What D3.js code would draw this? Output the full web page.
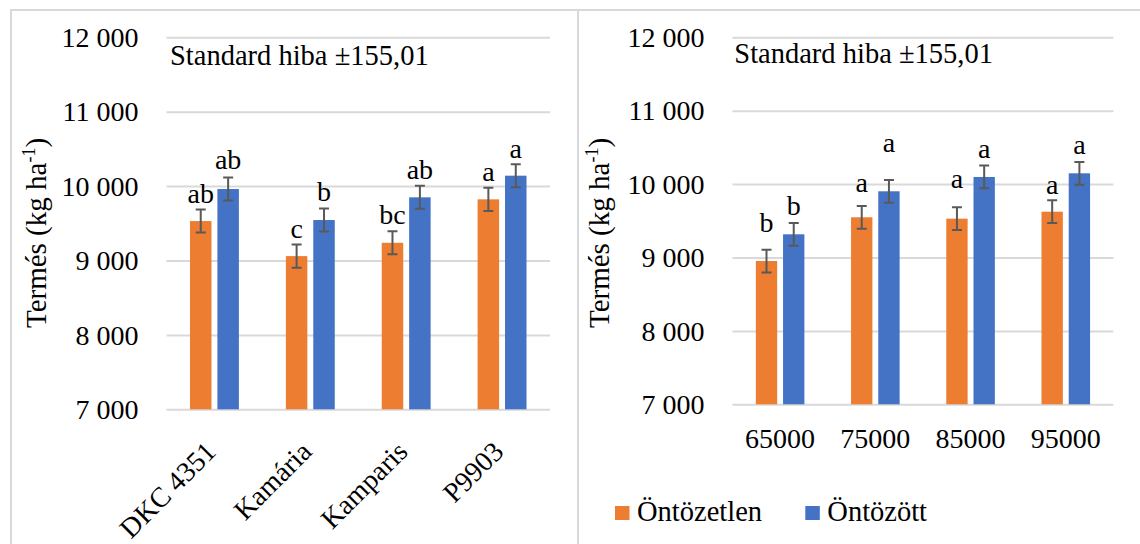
<!DOCTYPE html>
<html>
<head>
<meta charset="utf-8">
<script src="https://cdn.jsdelivr.net/npm/d3@7"></script>
<style>
body{margin:0;background:#fff;}
text{font-family:"Liberation Serif","Times New Roman",serif;fill:#000;}
</style>
</head>
<body>
<script>
// data
var hybrids=["DKC 4351","Kamária","Kamparis","P9903"];
var hybridDry=[9530,9059,9238,9822];
var hybridWet=[9961,9544,9849,10140];
var hybridDryLetters=["ab","c","bc","a"];
var hybridWetLetters=["ab","b","ab","a"];

var densities=["65000","75000","85000","95000"];
var densityDry=[8952,9548,9529,9624];
var densityWet=[9316,9902,10097,10147];
var densityDryLetters=["b","a","a","a"];
var densityWetLetters=["b","a","a","a"];

var seriesNames=["Öntözetlen","Öntözött"];
var yTicks=[7000,8000,9000,10000,11000,12000];
var stdErr=155.01;
var noteText="Standard hiba ±155,01";

var colors=["#ED7D31","#4472C4"];
var serif="Liberation Serif";
var fmt=d3.formatLocale({decimal:",",thousands:" ",grouping:[3],currency:["",""]}).format(",");

var svg=d3.select("body").append("svg").attr("width",1140).attr("height",544);

// frame lines
var frame="#D9D9D9";
svg.append("line").attr("x1",10).attr("x2",1140).attr("y1",10).attr("y2",10).attr("stroke",frame).attr("stroke-width",2);
svg.append("line").attr("x1",11).attr("x2",11).attr("y1",10).attr("y2",544).attr("stroke",frame).attr("stroke-width",2);
svg.append("line").attr("x1",578).attr("x2",578).attr("y1",10).attr("y2",544).attr("stroke",frame).attr("stroke-width",2);

function drawPanel(p){
  var y=d3.scaleLinear().domain([7000,12000]).range([p.bottom,p.top]);
  var x0=d3.scaleBand().domain(p.cats).range([p.left,p.right]).paddingInner(0.49).paddingOuter(0.245);
  var x1=d3.scaleBand().domain([0,1]).range([0,x0.bandwidth()]).paddingInner(0.216);
  var w=p.right-p.left;

  // gridlines
  var grid=svg.append("g").attr("transform","translate("+p.left+",0)")
    .call(d3.axisLeft(y).tickValues(yTicks).tickSize(-w).tickFormat(""));
  grid.select(".domain").remove();
  grid.selectAll("line").attr("stroke","#D9D9D9").attr("stroke-width",2);

  // y axis labels
  var ya=svg.append("g").attr("transform","translate("+p.left+",0)")
    .call(d3.axisLeft(y).tickValues(yTicks).tickSize(0).tickPadding(28).tickFormat(fmt));
  ya.select(".domain").remove();
  ya.selectAll("text").attr("font-size",28).attr("dy","0.33em").style("font-family",serif);

  // x axis labels
  var xa=svg.append("g").attr("transform","translate(0,"+p.bottom+")")
    .call(d3.axisBottom(x0).tickSize(0));
  xa.select(".domain").remove();
  xa.selectAll("text").attr("font-size",28).style("font-family",serif);
  if(p.rotate){
    xa.selectAll("text").attr("text-anchor","end").attr("y",0).attr("dy",0)
      .attr("transform","translate(3,44) rotate(-45)");
  } else {
    xa.selectAll("text").attr("y",44).attr("dy",0);
  }

  var series=[p.dry,p.wet];
  var letters=[p.dryLetters,p.wetLetters];
  series.forEach(function(vals,s){
    var g=svg.append("g");
    g.selectAll("rect").data(vals).enter().append("rect")
      .attr("x",function(d,i){return x0(p.cats[i])+x1(s);})
      .attr("width",x1.bandwidth())
      .attr("y",function(d){return y(d);})
      .attr("height",function(d){return p.bottom-y(d);})
      .attr("fill",colors[s]);
    var cx=function(d,i){return x0(p.cats[i])+x1(s)+x1.bandwidth()/2;};
    // error bars, +/- standard error
    g.selectAll(".eb").data(vals).enter().append("path")
      .attr("d",function(d,i){
        var c=cx(d,i), t=y(d+stdErr), b=y(d-stdErr);
        return "M"+(c-5)+","+t+"H"+(c+5)+"M"+c+","+t+"V"+b+"M"+(c-5)+","+b+"H"+(c+5);
      })
      .attr("stroke","#595959").attr("stroke-width",2).attr("fill","none");
    g.selectAll("text").data(vals).enter().append("text")
      .attr("x",cx)
      .attr("y",function(d,i){return y(d+stdErr)-p.gaps[s][i];})
      .attr("text-anchor","middle").attr("font-size",28).style("font-family",serif)
      .text(function(d,i){return letters[s][i];});
  });

  // note
  svg.append("text").attr("x",p.noteX).attr("y",p.noteY).attr("font-size",28.5)
    .style("font-family",serif).text(noteText);

  // y title
  var t=svg.append("text").attr("font-size",29).attr("text-anchor","middle").style("font-family",serif)
    .attr("transform","translate("+p.titleX+","+p.titleY+") rotate(-90)");
  t.append("tspan").text("Termés (kg ha");
  t.append("tspan").attr("font-size",18).attr("dy",-11).text("-1");
  t.append("tspan").attr("dy",11).text(")");
}

drawPanel({cats:hybrids,dry:hybridDry,wet:hybridWet,dryLetters:hybridDryLetters,wetLetters:hybridWetLetters,
  left:166.5,right:550,top:37.3,bottom:409.3,rotate:true,
  gaps:[[7,7,7,7],[8,7,7,6]],noteX:170,noteY:65,titleX:46,titleY:233});

drawPanel({cats:densities,dry:densityDry,wet:densityWet,dryLetters:densityDryLetters,wetLetters:densityWetLetters,
  left:732.5,right:1113.4,top:37.3,bottom:404.3,rotate:false,
  gaps:[[18,14,19,6],[8,28,8,8]],noteX:734.3,noteY:63.3,titleX:609,titleY:233});

// legend
var leg=svg.append("g");
var legX=[615,805.3];
seriesNames.forEach(function(n,i){
  leg.append("rect").attr("x",legX[i]).attr("y",506).attr("width",14.5).attr("height",14).attr("fill",colors[i]);
  leg.append("text").attr("x",legX[i]+22).attr("y",521).attr("font-size",28.5)
    .style("font-family",serif).text(n);
});
</script>
</body>
</html>
